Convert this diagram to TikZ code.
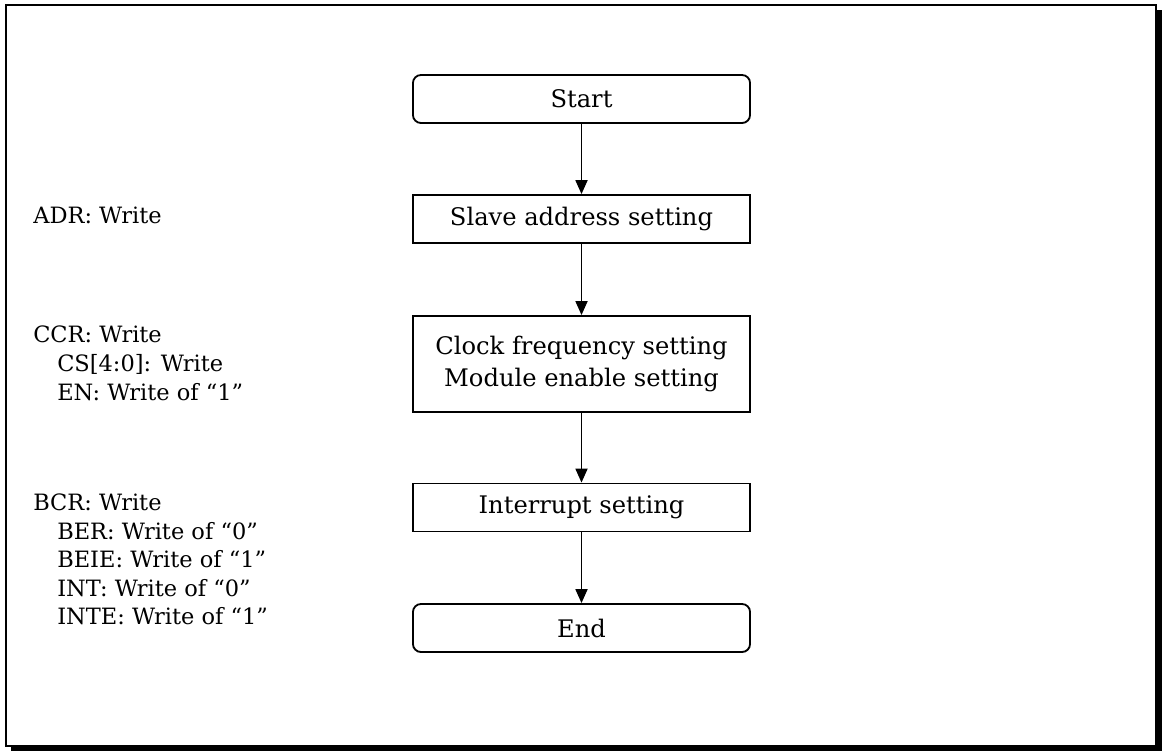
\documentclass[tikz,border=0pt]{standalone}
\usepackage{fontspec}
\setmainfont{DejaVu Serif}
\usetikzlibrary{arrows.meta}

\begin{document}
\begin{tikzpicture}[x=0.025cm,y=-0.025cm,
  process/.style={draw,line width=1.3pt,minimum width=8.425cm,minimum height=1.2cm,inner sep=0pt,align=center,
    font=\fontsize{17.2}{22.8}\selectfont},
  terminal/.style={process,rounded corners=0.2cm},
  flow/.style={line width=1.3pt,-{Triangle[width=0.3cm,length=0.35cm]}},
  note/.style={anchor=base west,align=left,inner sep=0pt,font=\fontsize{16}{20.3}\selectfont}]
\useasboundingbox (0,0) rectangle (1163,752);
% frame with shadow
\fill [black] (11,10) rectangle (1162,751);
\draw [fill=white,line width=1.3pt] (6,5) rectangle (1156,746);
% flow
\node [terminal] (start) at (581.5,99) {Start};
\node [process] (slave) at (581.5,219) {Slave address setting};
\node [process,minimum height=2.4cm] (clock) at (581.5,364) {Clock frequency setting\\Module enable setting};
\node [process] (intr) at (581.5,507.5) {Interrupt setting};
\node [terminal] (end) at (581.5,628) {End};
\draw [flow] (start) -- (slave);
\draw [flow] (slave) -- (clock);
\draw [flow] (clock) -- (intr);
\draw [flow] (intr) -- (end);
% register notes (placed at the baseline of the last line)
\node [note] (adr) at (33,223.3) {ADR: Write};
\node [note] (ccr) at (33,400) {CCR: Write\\\hspace*{0.6cm}CS[4:0]: Write\\\hspace*{0.6cm}EN: Write of “1”};
\node [note] (bcr) at (33,624.7) {BCR: Write\\\hspace*{0.6cm}BER: Write of “0”\\\hspace*{0.6cm}BEIE: Write of “1”\\\hspace*{0.6cm}INT: Write of “0”\\\hspace*{0.6cm}INTE: Write of “1”};
\end{tikzpicture}
\end{document}
